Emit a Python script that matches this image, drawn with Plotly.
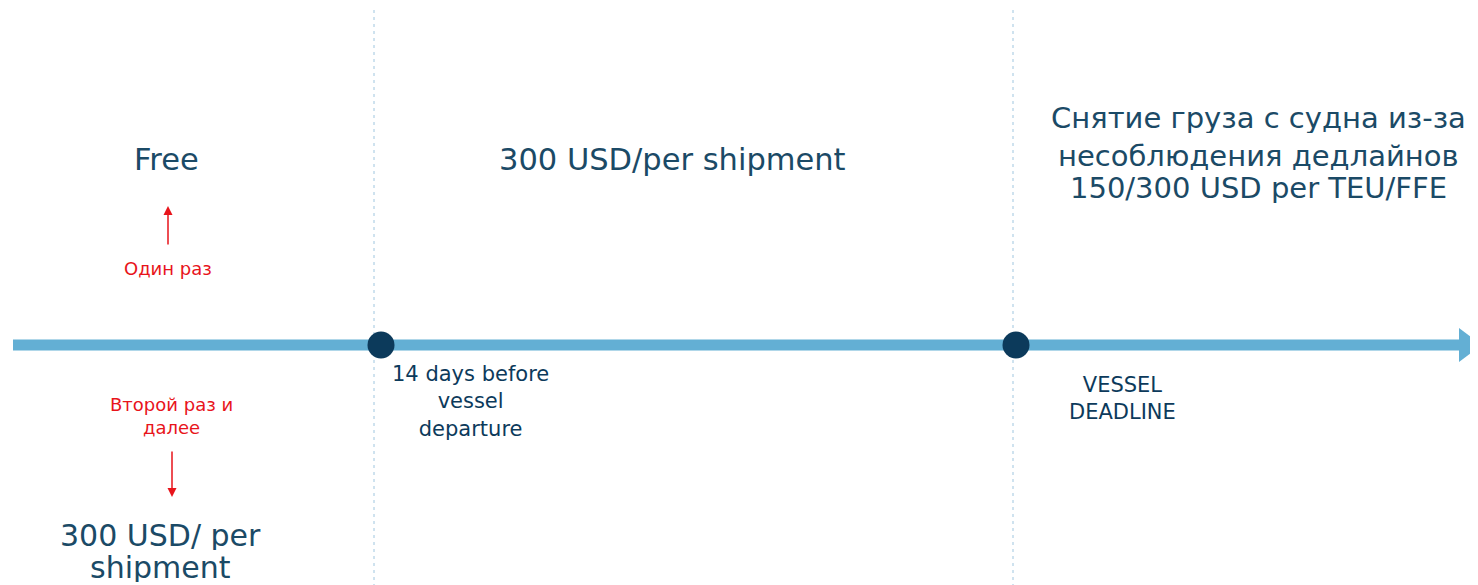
import plotly.graph_objects as go

# ---- data (diagram units = pixels of the canvas) ----
timeline_start = 13
timeline_end = 1462
timeline_y = 345
milestone_x = [381, 1016]
milestone_labels = ["14 days before<br>vessel<br>departure", "VESSEL<br>DEADLINE"]
milestone_label_x = [470, 1122]
milestone_label_y = [401, 398]
divider_x = [374, 1013]
period_labels = ["Free", "300 USD/per shipment"]
period_label_x = [166, 672]
period_label_y = [159, 159]
penalty_lines = ["Снятие груза с судна из-за", "несоблюдения дедлайнов", "150/300 USD per TEU/FFE"]
penalty_x = 1258
penalty_y = [118, 156, 188]
note_labels = ["Один раз", "Второй раз и<br>далее"]
note_x = [168, 171]
note_y = [268, 416]
arrow_x = [168, 172]
arrow_from_y = [246, 450]
arrow_to_y = [206, 497]
second_price_lines = ["300 USD/ per", "shipment"]
second_price_x = 160
second_price_y = [535, 567]

W, H = 1478, 585
OFF = 8  # page body margin
TEXT = "#1b4a66"
NAVY = "#0c3a5b"
LINE = "#63afd4"
RED = "#e8141b"
FONT = "DejaVu Sans"

fig = go.Figure()

# dashed dividers
for dx in divider_x:
    fig.add_trace(go.Scatter(x=[dx, dx], y=[10, H], mode="lines",
                             line=dict(color="#9fc6df", width=1, dash="3px,4px"),
                             hoverinfo="skip", showlegend=False))

# timeline bar
fig.add_trace(go.Scatter(x=[timeline_start, timeline_end], y=[timeline_y, timeline_y],
                         mode="lines", line=dict(color=LINE, width=11),
                         hoverinfo="skip", showlegend=False))
# arrow head
fig.add_trace(go.Scatter(x=[timeline_end - 3, W + 4, timeline_end - 3, timeline_end - 3],
                         y=[timeline_y - 17, timeline_y, timeline_y + 17, timeline_y - 17],
                         mode="lines", fill="toself", fillcolor=LINE,
                         line=dict(color=LINE, width=0),
                         hoverinfo="skip", showlegend=False))
# milestones
fig.add_trace(go.Scatter(x=milestone_x, y=[timeline_y] * len(milestone_x), mode="markers",
                         marker=dict(color=NAVY, size=27, line=dict(width=0)),
                         hoverinfo="skip", showlegend=False))

for t, x, y in zip(milestone_labels, milestone_label_x, milestone_label_y):
    fig.add_annotation(x=x, y=y, text=t, showarrow=False, align="center",
                       font=dict(family=FONT, size=21, color=NAVY))

for t, x, y in zip(period_labels, period_label_x, period_label_y):
    fig.add_annotation(x=x, y=y, text=t, showarrow=False, align="center",
                       font=dict(family=FONT, size=30.5, color=TEXT))

for t, y in zip(penalty_lines, penalty_y):
    fig.add_annotation(x=penalty_x, y=y, text=t, showarrow=False, align="center",
                       height=30, font=dict(family=FONT, size=29, color=TEXT))

for t, x, y in zip(note_labels, note_x, note_y):
    fig.add_annotation(x=x, y=y, text=t, showarrow=False, align="center",
                       font=dict(family=FONT, size=18, color=RED))

for x, y0, y1 in zip(arrow_x, arrow_from_y, arrow_to_y):
    fig.add_annotation(x=x, y=y1, ax=x, ay=y0, xref="x", yref="y", axref="x", ayref="y",
                       text="", showarrow=True, arrowhead=2, arrowsize=1.2,
                       arrowwidth=1.5, arrowcolor=RED)

for t, y in zip(second_price_lines, second_price_y):
    fig.add_annotation(x=second_price_x, y=y, text=t, showarrow=False,
                       align="center", height=30,
                       font=dict(family=FONT, size=30, color=TEXT))

fig.update_layout(
    width=W - OFF, height=H - OFF, margin=dict(l=0, r=0, t=0, b=0),
    paper_bgcolor="white", plot_bgcolor="white",
    xaxis=dict(range=[OFF, W], visible=False, fixedrange=True),
    yaxis=dict(range=[H, OFF], visible=False, fixedrange=True),
    showlegend=False,
)

fig.write_html("out.html", config={"displayModeBar": False})
